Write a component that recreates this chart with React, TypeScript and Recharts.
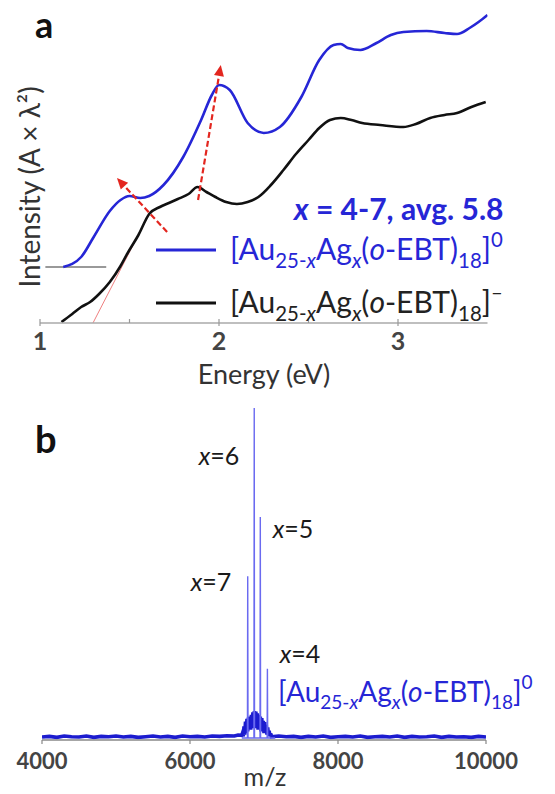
import React from 'react';
import { LineChart, Line, XAxis, YAxis, ReferenceLine } from 'recharts';

// panel a: absorption spectra (energy in eV, intensity in arbitrary units)
const energyBlue = [1.13, 1.23, 1.3, 1.39, 1.45, 1.5, 1.56, 1.61, 1.69, 1.8, 1.9, 1.96, 2.0, 2.06, 2.16, 2.25, 2.34, 2.46, 2.56, 2.64, 2.68, 2.72, 2.79, 2.88, 2.96, 3.03, 3.16, 3.26, 3.33, 3.4, 3.45, 3.5];
const intensityBlue = [5.6, 6.6, 8.6, 11.2, 12.3, 12.7, 12.5, 12.7, 13.8, 16.6, 20.3, 22.8, 23.8, 23.3, 20.0, 19.0, 19.6, 22.6, 26.3, 27.8, 27.9, 27.5, 27.3, 28.0, 28.8, 29.1, 29.2, 29.0, 28.9, 29.5, 30.1, 30.8];
const energyBlack = [1.12, 1.18, 1.23, 1.28, 1.33, 1.39, 1.45, 1.49, 1.55, 1.61, 1.67, 1.72, 1.77, 1.83, 1.88, 1.93, 1.98, 2.04, 2.1, 2.16, 2.22, 2.29, 2.36, 2.43, 2.5, 2.56, 2.62, 2.68, 2.74, 2.8, 2.9, 3.03, 3.1, 3.18, 3.26, 3.33, 3.41, 3.49];
const intensityBlack = [0.1, 0.9, 1.6, 2.1, 2.9, 4.1, 5.7, 7.0, 8.8, 10.9, 11.6, 12.0, 12.4, 12.9, 13.6, 13.1, 12.6, 12.1, 11.9, 12.1, 12.6, 13.8, 15.3, 16.9, 18.3, 19.5, 20.3, 20.5, 20.3, 20.0, 19.8, 19.6, 19.9, 20.5, 20.8, 21.0, 21.6, 22.1];
const energyTicks = [1, 1.5, 2, 2.5, 3];

// panel b: mass spectrum
const noiseMz = [4000, 4100, 4200, 4300, 4400, 4500, 4600, 4700, 4800, 4900, 5000, 5100, 5200, 5300, 5400, 5500, 5600, 5700, 5800, 5900, 6000, 6100, 6200, 6300, 6400, 6500, 6600, 6650, 6700,
  6710, 6720, 6730, 6740, 6750, 6760, 6770, 6780, 6790, 6800, 6810, 6820, 6830, 6840, 6850, 6860, 6870, 6880, 6890, 6900, 6910, 6920, 6930, 6940, 6950, 6960, 6970, 6980, 6990, 7000, 7010, 7020, 7030, 7040, 7050, 7060, 7070, 7080, 7090, 7100,
  7200, 7300, 7400, 7500, 7600, 7700, 7800, 7900, 8000, 8100, 8200, 8300, 8400, 8500, 8600, 8700, 8800, 8900, 9000, 9100, 9200, 9300, 9400, 9500, 9600, 9700, 9800, 9900, 10000];
const noiseVal = [0.3, 0.5, 0.2, 0.6, 0.4, 0.3, 0.6, 0.2, 0.5, 0.4, 0.6, 0.3, 0.5, 0.2, 0.4, 0.6, 0.3, 0.5, 0.2, 0.6, 0.4, 0.5, 0.3, 0.6, 0.5, 0.7, 0.6, 0.9, 0.8,
  1.5, 0.5, 3.5, 1.0, 5.0, 1.5, 5.8, 2.0, 6.2, 2.5, 6.5, 2.5, 7.0, 3.0, 7.8, 3.0, 8.2, 3.0, 8.0, 3.0, 7.5, 2.5, 7.0, 2.5, 6.5, 2.0, 6.0, 2.0, 5.2, 1.5, 4.8, 1.5, 4.0, 1.0, 3.2, 1.0, 2.2, 0.5, 1.4, 0.4,
  0.6, 0.4, 0.5, 0.2, 0.5, 0.3, 0.6, 0.2, 0.4, 0.5, 0.3, 0.6, 0.2, 0.4, 0.5, 0.3, 0.6, 0.2, 0.5, 0.3, 0.4, 0.6, 0.2, 0.5, 0.3, 0.4, 0.2, 0.5, 0.3];
const peakMz = [6700, 6776, 6780, 6784, 6864, 6868, 6872, 6946, 6950, 6954, 7042, 7046, 7050, 7150];
const peakVal = [0, 0, 49, 0, 0, 100, 0, 0, 67, 0, 0, 21, 0, 0];
const mzTicks = [4000, 6000, 8000, 10000];

const blueData = energyBlue.map((e, i) => ({ e, v: intensityBlue[i] }));
const blackData = energyBlack.map((e, i) => ({ e, v: intensityBlack[i] }));
const noiseData = noiseMz.map((mz, i) => ({ mz, v: noiseVal[i] }));
const peakData = peakMz.map((mz, i) => ({ mz, v: peakVal[i] }));

const FONT = 'Lato, "Open Sans", sans-serif';
const BLUE = '#2626d6';
const RED = '#e3261f';

const Arrow = (props: any) => {
  const { x1, y1, x2, y2 } = props;
  const a = Math.atan2(y2 - y1, x2 - x1);
  const L = 11, W = 5;
  const bx = x2 - L * Math.cos(a), by = y2 - L * Math.sin(a);
  const pts = `${x2},${y2} ${bx + W * Math.sin(a)},${by - W * Math.cos(a)} ${bx - W * Math.sin(a)},${by + W * Math.cos(a)}`;
  return (
    <g>
      <line x1={x1} y1={y1} x2={bx} y2={by} stroke={RED} strokeWidth={2.2} strokeDasharray="6 3" />
      <polygon points={pts} fill={RED} />
    </g>
  );
};

const EnergyTick = ({ x, y, payload }: any) => {
  const major = Number.isInteger(payload.value);
  return (
    <g>
      <line x1={x} x2={x} y1={y - 4} y2={major ? y + 3 : y} stroke="#999" strokeWidth={1.2} />
      {major && (
        <text x={x} y={y + 27} textAnchor="middle" fontSize={25} fontWeight="bold" fill="#444" fontFamily={FONT}>
          {payload.value}
        </text>
      )}
    </g>
  );
};

const MzTick = ({ x, y, payload }: any) => (
  <g>
    <line x1={x} x2={x} y1={y} y2={y + 4} stroke="#888" strokeWidth={1.2} />
    <text x={x} y={y + 29} textAnchor="middle" fontSize={22} fontWeight="bold" fill="#444" fontFamily={FONT}>
      {payload.value}
    </text>
  </g>
);

const Formula = ({ x, y, size, fill, charge }: { x: number; y: number; size: number; fill: string; charge: string }) => {
  const s = size * 0.68;
  const d = size * 0.25;
  const u = size * 0.45;
  return (
    <text x={x} y={y} fontSize={size} fill={fill} fontFamily={FONT}>
      [Au
      <tspan fontSize={s} dy={d}>25-</tspan>
      <tspan fontSize={s} fontStyle="italic">x</tspan>
      <tspan dy={-d}>Ag</tspan>
      <tspan fontSize={s} fontStyle="italic" dy={d}>x</tspan>
      <tspan dy={-d}>(</tspan>
      <tspan fontStyle="italic">o</tspan>
      <tspan>-EBT)</tspan>
      <tspan fontSize={s} dy={d}>18</tspan>
      <tspan dy={-d}>]</tspan>
      <tspan fontSize={s} dy={-u}>{charge}</tspan>
    </text>
  );
};

const XLabel = ({ x, y, n }: { x: number; y: number; n: number }) => (
  <text x={x} y={y} textAnchor="middle" fontSize={25} fill="#1a1a1a" fontFamily={FONT}>
    <tspan fontStyle="italic">x</tspan>={n}
  </text>
);

export default function App() {
  return (
    <div style={{ position: 'absolute', left: 0, top: 0, width: 555, height: 794, background: '#fff', fontFamily: FONT }}>
      <div style={{ position: 'absolute', left: 0, top: 0 }}>
        <LineChart width={555} height={390} margin={{ top: 13, right: 67.5, bottom: 17, left: 40 }}>
          <XAxis
            dataKey="e"
            type="number"
            domain={[1, 3.5]}
            ticks={energyTicks}
            allowDataOverflow
            height={50}
            tickSize={0}
            tickMargin={0}
            tick={<EnergyTick />}
            axisLine={{ stroke: '#aaa', strokeWidth: 1.5 }}
            tickLine={false}
          />
          <YAxis type="number" domain={[0, 31]} hide allowDataOverflow />
          <ReferenceLine segment={[{ x: 1.03, y: 5.6 }, { x: 1.37, y: 5.6 }]} stroke="#999" strokeWidth={2} />
          <ReferenceLine segment={[{ x: 1.296, y: 0 }, { x: 1.615, y: 11.1 }]} stroke="#ef8080" strokeWidth={1} />
          <Line data={blackData} dataKey="v" type="monotone" stroke="#111" strokeWidth={2.6} dot={false} isAnimationActive={false} />
          <Line data={blueData} dataKey="v" type="monotone" stroke={BLUE} strokeWidth={2.6} dot={false} isAnimationActive={false} />
          <ReferenceLine segment={[{ x: 1.71, y: 9.1 }, { x: 1.43, y: 14.5 }]} shape={Arrow} />
          <ReferenceLine segment={[{ x: 1.883, y: 12.3 }, { x: 2.01, y: 25.8 }]} shape={Arrow} />
        </LineChart>
      </div>
      <div style={{ position: 'absolute', left: 0, top: 400 }}>
        <LineChart width={555} height={394} margin={{ top: 8, right: 69, bottom: 14, left: 42 }}>
          <XAxis
            dataKey="mz"
            type="number"
            domain={[4000, 10000]}
            ticks={mzTicks}
            allowDataOverflow
            height={40}
            tickSize={0}
            tickMargin={0}
            tick={<MzTick />}
            axisLine={{ stroke: '#888', strokeWidth: 1.5 }}
            tickLine={false}
          />
          <YAxis type="number" domain={[-0.6, 100]} hide allowDataOverflow />
          <Line data={noiseData} dataKey="v" type="linear" stroke="#1c1ccf" strokeWidth={3.6} dot={false} isAnimationActive={false} />
          <Line data={peakData} dataKey="v" type="linear" stroke="#6a6af0" strokeWidth={1.4} dot={false} isAnimationActive={false} />
        </LineChart>
      </div>
      <svg width={555} height={794} style={{ position: 'absolute', left: 0, top: 0, pointerEvents: 'none' }} fontFamily={FONT}>
        <text x={35} y={38} fontSize={36} fontWeight="bold" fill="#111">a</text>
        <text x={35} y={453} fontSize={38} fontWeight="bold" fill="#111">b</text>
        <text transform="translate(40,187) rotate(-90)" textAnchor="middle" fontSize={28} fill="#333">
          Intensity (A × λ²)
        </text>
        <text x={264} y={384} textAnchor="middle" fontSize={27} fill="#333">Energy (eV)</text>
        <text x={265} y={786} textAnchor="middle" fontSize={25} fill="#333">m/z</text>

        <text x={294} y={220} fontSize={30} fontWeight="bold" fill={BLUE}>
          <tspan fontStyle="italic">x</tspan> = 4-7, avg. 5.8
        </text>
        <line x1={156} x2={216} y1={250} y2={250} stroke={BLUE} strokeWidth={3} />
        <Formula x={230} y={260} size={30} fill={BLUE} charge="0" />
        <line x1={156} x2={216} y1={303} y2={303} stroke="#111" strokeWidth={3} />
        <Formula x={230} y={313} size={30} fill="#222" charge="–" />

        <XLabel x={219} y={465} n={6} />
        <XLabel x={293} y={538} n={5} />
        <XLabel x={211} y={591} n={7} />
        <XLabel x={300} y={663} n={4} />
        <Formula x={278} y={702} size={28} fill={BLUE} charge="0" />
      </svg>
    </div>
  );
}
